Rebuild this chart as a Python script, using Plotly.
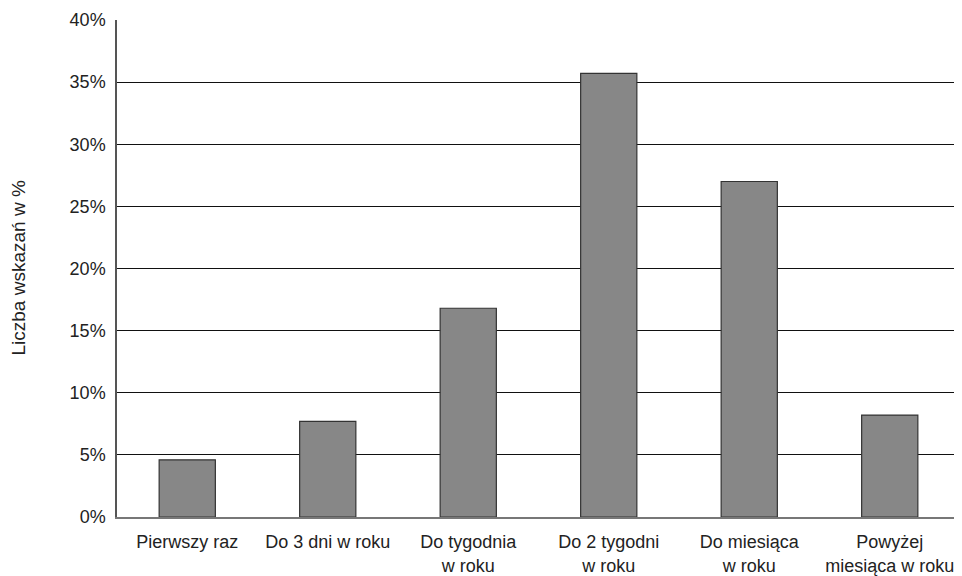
import plotly.graph_objects as go

categories = ["Pierwszy raz", "Do 3 dni w roku", "Do tygodnia<br>w roku",
              "Do 2 tygodni<br>w roku", "Do miesiąca<br>w roku", "Powyżej<br>miesiąca w roku"]
values = [4.6, 7.7, 16.8, 35.7, 27.0, 8.2]
tick_vals = [0, 5, 10, 15, 20, 25, 30, 35, 40]
tick_text = ["0%", "5%", "10%", "15%", "20%", "25%", "30%", "35%", "40%"]
y_title = "Liczba wskazań w %"

FONT = "Liberation Sans, Arial, sans-serif"

fig = go.Figure(go.Bar(
    x=categories, y=values,
    marker=dict(color="#878787", line=dict(color="#333333", width=1.2)),
    width=0.4,
))

# page body has an 8px margin, so the figure is offset by 8px
fig.update_layout(
    width=954, height=568,
    margin=dict(l=109, r=2, t=12, b=59),
    paper_bgcolor="white", plot_bgcolor="white",
    font=dict(family=FONT, size=18, color="#222222"),
    showlegend=False,
    xaxis=dict(
        showgrid=False, showline=True, linecolor="#777777", linewidth=1.5,
        ticks="", ticklabelstandoff=8, tickfont=dict(size=18), automargin=False,
    ),
    yaxis=dict(
        range=[0, 40], tickvals=tick_vals, ticktext=tick_text,
        showgrid=True, gridcolor="#111111", gridwidth=1,
        showline=True, linecolor="#555555", linewidth=1.5,
        ticks="", ticklabelstandoff=6, tickfont=dict(size=18),
        zeroline=False, automargin=False,
    ),
    annotations=[dict(
        text=y_title, xref="paper", yref="paper",
        x=(10 - 109) / 843, y=0.5, textangle=-90, showarrow=False,
        font=dict(size=19, family=FONT, color="#222222"),
        xanchor="center", yanchor="middle",
    )],
)

fig.write_html("out.html")
